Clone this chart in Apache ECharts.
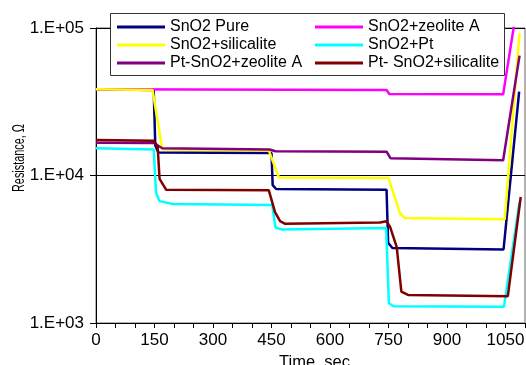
<!DOCTYPE html>
<html>
<head>
<meta charset="utf-8">
<script src="https://cdn.jsdelivr.net/npm/echarts@6/dist/echarts.min.js"></script>
<style>
  html, body { margin: 0; padding: 0; background: #fff; }
  #main { width: 526px; height: 365px; }
</style>
</head>
<body>
<div id="main"></div>
<script>
// series names, in legend order
var names = ['SnO2 Pure', 'SnO2+zeolite A', 'SnO2+silicalite', 'SnO2+Pt', 'Pt-SnO2+zeolite A', 'Pt- SnO2+silicalite'];
var colors = ['#000080', '#FF00FF', '#FFFF00', '#00FFFF', '#800080', '#800000'];

// time (sec) and resistance (ohm)
var pureT = [0, 148, 152, 160, 450, 453, 462, 745, 749, 760, 1045, 1085];
var pureR = [38500, 38000, 16000, 14300, 14200, 8600, 8100, 8000, 3500, 3220, 3150, 37000];

var zeoT = [0, 745, 752, 1044, 1072];
var zeoR = [38400, 38000, 35700, 35500, 105000];

var silT = [0, 145, 170, 443, 469, 750, 780, 792, 1048, 1086];
var silR = [38500, 38000, 15000, 14800, 9700, 9600, 5500, 5150, 5050, 92000];

var ptT = [0, 148, 154, 163, 197, 452, 460, 477, 744, 751, 763, 1046, 1086];
var ptR = [15300, 15000, 7600, 6700, 6400, 6300, 4450, 4300, 4400, 1360, 1300, 1290, 6650];

var ptZeoT = [0, 148, 170, 445, 460, 745, 755, 1044, 1086];
var ptZeoR = [16700, 16600, 15300, 15000, 14600, 14500, 13100, 12700, 65000];

var ptSilT = [0, 148, 158, 163, 180, 443, 459, 472, 485, 728, 745, 754, 771, 783, 800, 1056, 1089];
var ptSilR = [17400, 17200, 15800, 9500, 8000, 7950, 5650, 4900, 4700, 4800, 4900, 4480, 3280, 1630, 1550, 1520, 7150];

var timeTicks = [0, 150, 300, 450, 600, 750, 900, 1050];

var font = 'Liberation Sans';

function pairs(t, r) {
    var out = [];
    for (var i = 0; i < t.length; i++) {
        out.push([t[i], r[i]]);
    }
    return out;
}

var allData = [
    pairs(pureT, pureR),
    pairs(zeoT, zeoR),
    pairs(silT, silR),
    pairs(ptT, ptR),
    pairs(ptZeoT, ptZeoR),
    pairs(ptSilT, ptSilR)
];

var series = [];
for (var i = 0; i < names.length; i++) {
    series.push({
        name: names[i],
        type: 'line',
        showSymbol: false,
        symbol: 'none',
        data: allData[i],
        lineStyle: { color: colors[i], width: 2.5 },
        itemStyle: { color: colors[i] }
    });
}

var legendBase = {
    orient: 'vertical',
    top: 19,
    padding: 0,
    icon: 'rect',
    itemWidth: 48,
    itemHeight: 3,
    itemGap: 2,
    itemTextGap: 3,
    textStyle: { fontFamily: font, fontSize: 16, color: '#000' }
};

var myChart = echarts.init(document.getElementById('main'));
var option = {
    animation: false,
    backgroundColor: '#fff',
    grid: {
        left: 96, right: 1, top: 28, bottom: 42,
        outerBoundsMode: 'none',
        containLabel: false,
        show: true, borderColor: '#666', borderWidth: 1
    },
    legend: [
        Object.assign({}, legendBase, { left: 117, data: [names[0], names[2], names[4]] }),
        Object.assign({}, legendBase, { left: 315, data: [names[1], names[3], names[5]] })
    ],
    graphic: [{
        type: 'rect',
        z: 3,
        shape: { x: 110.5, y: 13.5, width: 394, height: 62 },
        style: { fill: '#fff', stroke: '#333', lineWidth: 1 }
    }, {
        // y axis title, narrow like the original
        type: 'text',
        x: 19,
        y: 158,
        rotation: Math.PI / 2,
        scaleX: 0.64,
        style: {
            text: 'Resistance, Ω',
            font: '17px "Liberation Sans"',
            fill: '#000',
            textAlign: 'center',
            textVerticalAlign: 'middle'
        }
    }],
    xAxis: {
        type: 'value',
        min: 0,
        max: 1100,
        interval: 50,
        name: 'Time, sec',
        nameLocation: 'middle',
        nameGap: 30,
        nameTextStyle: { fontFamily: font, fontSize: 16.5, color: '#000', padding: [0, 0, 0, 8] },
        axisLine: { lineStyle: { color: '#000', width: 1 } },
        axisTick: { show: true, length: 5, lineStyle: { color: '#000' } },
        axisLabel: {
            interval: 0,
            margin: 9,
            fontFamily: font,
            fontSize: 17,
            color: '#000',
            formatter: function (v) {
                return timeTicks.indexOf(v) >= 0 ? String(v) : '';
            }
        },
        splitLine: { show: false }
    },
    yAxis: {
        type: 'log',
        logBase: 10,
        min: 1000,
        max: 100000,
        axisLine: { show: true, lineStyle: { color: '#000', width: 1 } },
        axisTick: { show: true, length: 6, lineStyle: { color: '#000' } },
        axisLabel: {
            margin: 12,
            fontFamily: font,
            fontSize: 17,
            color: '#000',
            formatter: function (v) {
                return '1.E+0' + Math.round(Math.log10(v));
            }
        },
        splitLine: { show: true, lineStyle: { color: '#000', width: 1 } }
    },
    series: series
};
myChart.setOption(option);
</script>
</body>
</html>
